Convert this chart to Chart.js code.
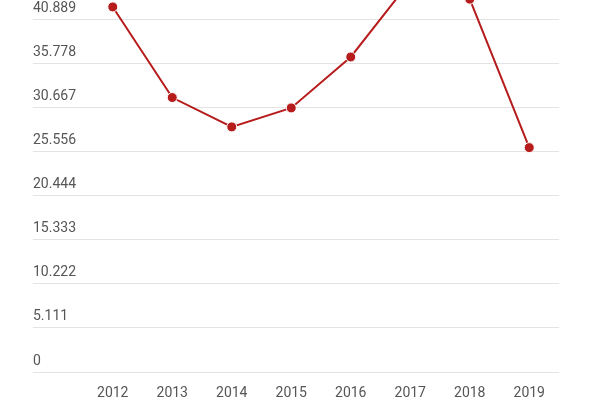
<!DOCTYPE html>
<html>
<head>
<meta charset="utf-8">
<script src="https://cdn.jsdelivr.net/npm/chart.js@4"></script>
<style>
  html, body { margin: 0; padding: 0; background: #fff; overflow: hidden; }
  #wrap { position: absolute; left: 0; top: -35px; width: 600px; height: 435px; }
</style>
</head>
<body>
<div id="wrap"><canvas id="chart"></canvas></div>
<script>
// chart data
const years = ['2012', '2013', '2014', '2015', '2016', '2017', '2018', '2019'];
const values = [42.3, 31.8, 28.4, 30.6, 36.5, 45.3, 43.2, 26.0];
const tickLabels = ['0', '5.111', '10.222', '15.333', '20.444', '25.556', '30.667', '35.778', '40.889', '46'];

Chart.defaults.font.family = "Roboto, 'Noto Sans', sans-serif";
Chart.defaults.font.size = 14;
Chart.defaults.color = '#555';

new Chart(document.getElementById('chart'), {
  type: 'line',
  data: {
    labels: years,
    datasets: [{
      data: values,
      borderColor: '#b71c1c',
      borderWidth: 2,
      backgroundColor: '#b71c1c',
      pointBackgroundColor: '#b71c1c',
      pointBorderColor: '#fff',
      pointBorderWidth: 1,
      pointRadius: 5,
      tension: 0,
    }],
  },
  options: {
    responsive: true,
    maintainAspectRatio: false,
    animation: false,
    layout: { padding: { left: 33, right: 41, top: 10, bottom: 0 } },
    plugins: { legend: { display: false }, tooltip: { enabled: false } },
    scales: {
      x: {
        offset: true,
        grid: { display: false },
        border: { display: false },
        ticks: { color: '#555', padding: 5 },
        afterFit: (s) => { s.height = 28; },
      },
      y: {
        min: 0,
        max: 46,
        afterBuildTicks: (s) => { s.ticks = tickLabels.map((t, i) => ({ value: i * 46 / 9 })); },
        grid: { color: '#e3e3e3', tickLength: 50, lineWidth: 1 },
        border: { display: false },
        ticks: {
          crossAlign: 'far',
          padding: 0,
          labelOffset: -11,
          color: '#555',
          callback: (v, i) => tickLabels[i],
        },
        afterFit: (s) => { s.width = 50; },
      },
    },
  },
});
</script>
</body>
</html>
